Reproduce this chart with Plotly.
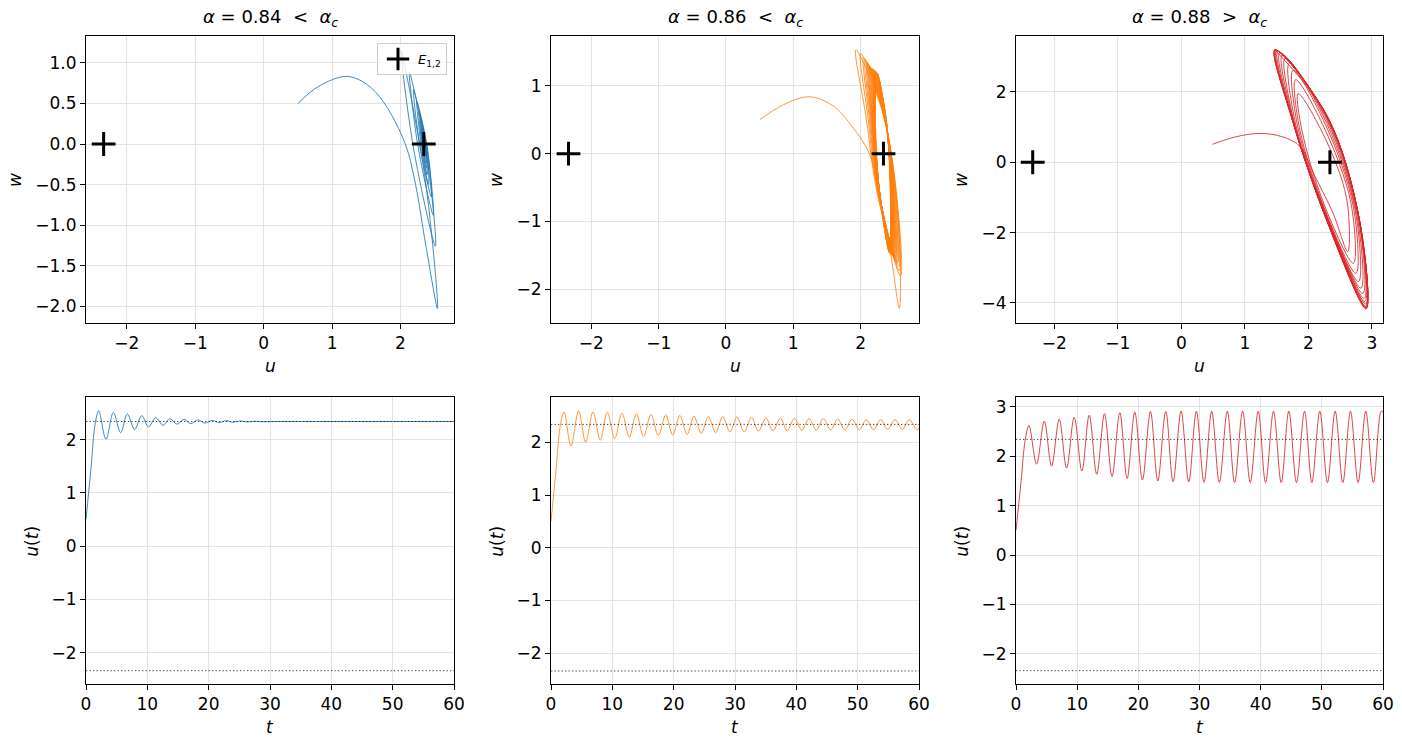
import plotly.graph_objects as go

E = 2.34          # equilibria E_{1,2} at (+-E, 0)
T_MAX = 60

# ---------------- alpha = 0.84 (blue) ----------------
b_rise_t = [0.0, 0.8, 1.5]
b_rise_u = [0.5, 1.45, 2.3]
b_peak_t = [2.07, 4.46, 6.74, 9.08, 11.36, 13.7, 15.98, 18.26, 20.55, 22.85, 25.1, 27.4]
b_peak_u = [2.54, 2.51, 2.48, 2.45, 2.41, 2.39, 2.38, 2.37, 2.36, 2.355, 2.35, 2.345]
b_trough_t = [3.26, 5.65, 7.93, 10.2, 12.55, 14.84, 17.1, 19.4, 21.7, 24.0, 26.3, 28.6]
b_trough_u = [2.006, 2.13, 2.19, 2.24, 2.27, 2.29, 2.30, 2.31, 2.32, 2.325, 2.33, 2.335]
b_tail_t = [31.0, 40.0, 50.0, 60.0]
b_tail_u = [2.34, 2.34, 2.34, 2.34]

b_arc_u = [0.5, 0.8, 1.21, 1.5, 1.75, 2.07, 2.22, 2.37]
b_arc_w = [0.5, 0.71, 0.834, 0.74, 0.52, 0.0, -0.5, -1.25]
b_bot_w = [-2.03, -1.26, -0.88, -0.65, -0.50, -0.38, -0.30, -0.23, -0.17, -0.12, -0.08, -0.05]
b_top_w = [1.16, 0.89, 0.67, 0.52, 0.40, 0.31, 0.24, 0.18, 0.13, 0.09, 0.06, 0.04]
b_up_u = [2.36, 2.39, 2.395, 2.395, 2.385, 2.375, 2.37, 2.365, 2.36, 2.355, 2.35, 2.345]
b_up_w = [-0.43, -0.18, -0.10, -0.06, -0.05, -0.04, -0.03, -0.025, -0.02, -0.015, -0.01, -0.005]
b_down_u = [2.19, 2.25, 2.28, 2.30, 2.31, 2.32, 2.325, 2.33, 2.333, 2.336, 2.338]
b_down_w = [-0.05, 0.0, 0.0, 0.0, 0.0, 0.0, 0.0, 0.0, 0.0, 0.0, 0.0]
b_end_u = [2.34]
b_end_w = [0.0]

# ---------------- alpha = 0.86 (orange) ----------------
o_rise_t = [0.0, 0.8, 1.5]
o_rise_u = [0.5, 1.45, 2.3]
o_peak_t = [2.12, 4.51, 6.85, 9.18, 11.58, 13.9, 16.3, 18.7, 21.0, 23.3, 25.65, 28.0, 30.3,
            32.7, 35.05, 37.4, 39.7, 42.07, 44.4, 46.74, 49.07, 51.4, 53.75, 56.1, 58.4]
o_peak_u = [2.576, 2.595, 2.576, 2.57, 2.55, 2.544, 2.53, 2.52, 2.51, 2.50, 2.49, 2.49, 2.48,
            2.475, 2.46, 2.46, 2.456, 2.45, 2.45, 2.44, 2.437, 2.43, 2.43, 2.43, 2.43]
o_trough_t = [3.26, 5.65, 8.04, 10.38, 12.77, 15.1, 17.5, 19.84, 22.2, 24.5, 26.85, 29.2, 31.5,
              33.8, 36.2, 38.5, 40.9, 43.26, 45.6, 47.9, 50.27, 52.6, 54.9, 57.3, 59.6]
o_trough_u = [1.93, 2.0, 2.044, 2.07, 2.095, 2.11, 2.127, 2.14, 2.15, 2.17, 2.18, 2.196, 2.20,
              2.21, 2.215, 2.22, 2.228, 2.228, 2.234, 2.234, 2.24, 2.24, 2.245, 2.245, 2.25]
o_tail_t = [60.0]
o_tail_u = [2.26]

o_arc_u = [0.5, 0.85, 1.24, 1.6, 1.82, 2.13, 2.31, 2.45]
o_arc_w = [0.5, 0.72, 0.84, 0.7, 0.47, 0.0, -0.78, -1.5]
o_bot_w = [-2.28, -1.80, -1.72, -1.66, -1.62, -1.59, -1.57, -1.55, -1.54, -1.53, -1.52, -1.51, -1.50,
           -1.50, -1.49, -1.49, -1.48, -1.48, -1.47, -1.47, -1.47, -1.46, -1.46, -1.46, -1.46]
o_top_w = [1.53, 1.48, 1.42, 1.38, 1.35, 1.32, 1.30, 1.28, 1.27, 1.26, 1.25, 1.24, 1.23,
           1.22, 1.22, 1.21, 1.21, 1.20, 1.20, 1.20, 1.19, 1.19, 1.19, 1.19, 1.19]
o_up1_u = [2.56, 2.55, 2.54, 2.53, 2.52, 2.51, 2.50, 2.495, 2.49, 2.485, 2.48, 2.475, 2.47,
           2.465, 2.46, 2.46, 2.455, 2.455, 2.45, 2.45, 2.45, 2.445, 2.445, 2.445, 2.44]
o_up1_w = [-0.95, -0.75, -0.72, -0.70, -0.68, -0.66, -0.65, -0.64, -0.63, -0.62, -0.61, -0.60, -0.60,
           -0.59, -0.59, -0.58, -0.58, -0.57, -0.57, -0.57, -0.56, -0.56, -0.56, -0.55, -0.55]
o_up2_u = [2.33, 2.34, 2.345, 2.35, 2.355, 2.36, 2.36, 2.365, 2.365, 2.37, 2.37, 2.37, 2.37,
           2.375, 2.375, 2.375, 2.375, 2.375, 2.375, 2.38, 2.38, 2.38, 2.38, 2.38, 2.38]
o_up2_w = [0.60, 0.58, 0.56, 0.55, 0.54, 0.53, 0.52, 0.52, 0.51, 0.51, 0.50, 0.50, 0.50,
           0.50, 0.50, 0.50, 0.50, 0.50, 0.50, 0.50, 0.50, 0.50, 0.50, 0.50, 0.50]
o_down1_u = [2.08, 2.11, 2.13, 2.145, 2.155, 2.165, 2.17, 2.175, 2.18, 2.185, 2.19, 2.195,
             2.2, 2.2, 2.205, 2.205, 2.21, 2.21, 2.21, 2.215, 2.215, 2.215, 2.22, 2.22]
o_down1_w = [0.55, 0.53, 0.52, 0.51, 0.50, 0.50, 0.50, 0.50, 0.50, 0.50, 0.50, 0.50,
             0.50, 0.50, 0.50, 0.50, 0.50, 0.50, 0.50, 0.50, 0.50, 0.50, 0.50, 0.50]
o_down2_u = [2.25, 2.255, 2.26, 2.262, 2.265, 2.267, 2.27, 2.272, 2.274, 2.275, 2.276, 2.277,
             2.278, 2.279, 2.28, 2.28, 2.28, 2.28, 2.28, 2.28, 2.28, 2.28, 2.28, 2.28]
o_down2_w = [-0.60, -0.58, -0.57, -0.56, -0.55, -0.55, -0.55, -0.55, -0.55, -0.55, -0.55, -0.55,
             -0.55, -0.55, -0.55, -0.55, -0.55, -0.55, -0.55, -0.55, -0.55, -0.55, -0.55, -0.55]

# ---------------- alpha = 0.88 (red) ----------------
r_rise_t = [0.0, 0.8, 1.5]
r_rise_u = [0.5, 1.45, 2.32]
r_peak_t = [2.12, 4.62, 7.07, 9.52, 11.97, 14.47, 16.97, 19.42, 21.98, 24.48, 26.99, 29.49,
            31.99, 34.55, 37.05, 39.6, 42.1, 44.6, 47.17, 49.67, 52.18, 54.68, 57.18, 59.7]
r_peak_u = [2.62, 2.71, 2.75, 2.79, 2.83, 2.86, 2.88, 2.89, 2.905, 2.905, 2.91, 2.91,
            2.91, 2.91, 2.91, 2.91, 2.91, 2.91, 2.91, 2.91, 2.91, 2.91, 2.91, 2.91]
r_trough_t = [3.37, 5.82, 8.27, 10.77, 13.2, 15.7, 18.17, 20.67, 23.18, 25.68, 28.24, 30.74,
              33.24, 35.74, 38.3, 40.8, 43.36, 45.86, 48.37, 50.92, 53.43, 55.93, 58.43]
r_trough_u = [1.84, 1.80, 1.76, 1.70, 1.635, 1.59, 1.55, 1.52, 1.50, 1.486, 1.48, 1.473,
              1.47, 1.466, 1.466, 1.466, 1.466, 1.466, 1.466, 1.466, 1.466, 1.466, 1.466]
r_tail_t = [60.0]
r_tail_u = [2.89]

r_arc_u = [0.49, 0.85, 1.24, 1.6, 1.87, 2.08, 2.39]
r_arc_w = [0.51, 0.72, 0.82, 0.72, 0.45, -0.31, -1.45]
r_bot_w = [-2.54, -2.87, -3.16, -3.39, -3.58, -3.73, -3.87, -3.96, -4.03, -4.09, -4.12, -4.14, -4.16, -4.17]
r_top_w = [1.95, 2.35, 2.62, 2.82, 2.96, 3.05, 3.11, 3.15, 3.17, 3.18, 3.19, 3.2, 3.2, 3.21]
r_up1_u = [2.60, 2.67, 2.71, 2.74, 2.76, 2.78, 2.79, 2.795, 2.80, 2.80, 2.80, 2.80, 2.80, 2.80]
r_up1_w = [-1.0, -1.15, -1.28, -1.38, -1.45, -1.5, -1.54, -1.56, -1.58, -1.59, -1.6, -1.6, -1.6, -1.6]
r_up2_u = [2.22, 2.25, 2.27, 2.28, 2.29, 2.295, 2.3, 2.3, 2.3, 2.3, 2.3, 2.3, 2.3, 2.3]
r_up2_w = [0.85, 0.98, 1.07, 1.14, 1.19, 1.23, 1.26, 1.27, 1.28, 1.29, 1.3, 1.3, 1.3, 1.3]
r_down1_u = [1.90, 1.86, 1.83, 1.80, 1.78, 1.77, 1.76, 1.755, 1.75, 1.75, 1.75, 1.75, 1.75]
r_down1_w = [0.9, 0.98, 1.04, 1.09, 1.12, 1.15, 1.17, 1.18, 1.19, 1.2, 1.2, 1.2, 1.2]
r_down2_u = [2.26, 2.27, 2.28, 2.29, 2.29, 2.3, 2.3, 2.3, 2.3, 2.3, 2.3, 2.3, 2.3]
r_down2_w = [-1.25, -1.38, -1.47, -1.54, -1.59, -1.62, -1.65, -1.67, -1.68, -1.69, -1.7, -1.7, -1.7]

titles = ["<i>α</i> = 0.84 &nbsp;&lt;&nbsp; <i>α<sub>c</sub></i>",
          "<i>α</i> = 0.86 &nbsp;&lt;&nbsp; <i>α<sub>c</sub></i>",
          "<i>α</i> = 0.88 &nbsp;&gt;&nbsp; <i>α<sub>c</sub></i>"]
colors = ["rgba(31,119,180,0.85)", "rgba(255,127,14,0.82)", "rgba(214,39,40,0.85)"]


def build_series(rise_t, rise_u, peak_t, peak_u, trough_t, trough_u, tail_t, tail_u):
    ext = sorted(zip(peak_t + trough_t, peak_u + trough_u))
    t = rise_t + [p[0] for p in ext] + tail_t
    u = rise_u + [p[1] for p in ext] + tail_u
    return t, u


def build_phase(arc_u, arc_w, bot_u, bot_w, top_u, top_w, up, down, end_u=(), end_w=()):
    us, ws = list(arc_u), list(arc_w)
    for k in range(len(bot_w)):
        us.append(bot_u[k]); ws.append(bot_w[k])
        for su, sw in up:
            us.append(su[k]); ws.append(sw[k])
        us.append(top_u[k]); ws.append(top_w[k])
        if k < len(down[0][0]):
            for su, sw in down:
                us.append(su[k]); ws.append(sw[k])
    return us + list(end_u), ws + list(end_w)


series = [
    build_series(b_rise_t, b_rise_u, b_peak_t, b_peak_u, b_trough_t, b_trough_u, b_tail_t, b_tail_u),
    build_series(o_rise_t, o_rise_u, o_peak_t, o_peak_u, o_trough_t, o_trough_u, o_tail_t, o_tail_u),
    build_series(r_rise_t, r_rise_u, r_peak_t, r_peak_u, r_trough_t, r_trough_u, r_tail_t, r_tail_u),
]
phases = [
    build_phase(b_arc_u, b_arc_w, b_peak_u, b_bot_w, b_trough_u, b_top_w,
                [(b_up_u, b_up_w)], [(b_down_u, b_down_w)], b_end_u, b_end_w),
    build_phase(o_arc_u, o_arc_w, o_peak_u, o_bot_w, o_trough_u, o_top_w,
                [(o_up1_u, o_up1_w), (o_up2_u, o_up2_w)],
                [(o_down1_u, o_down1_w), (o_down2_u, o_down2_w)]),
    build_phase(r_arc_u, r_arc_w, r_peak_u[:len(r_bot_w)], r_bot_w, r_trough_u[:len(r_top_w)], r_top_w,
                [(r_up1_u, r_up1_w), (r_up2_u, r_up2_w)],
                [(r_down1_u, r_down1_w), (r_down2_u, r_down2_w)]),
]

W, H = 1402, 741
col_dom = [[86 / W, 454 / W], [551 / W, 919 / W], [1016 / W, 1383 / W]]
top_dom = [1 - 323 / H, 1 - 36 / H]
bot_dom = [1 - 684 / H, 1 - 397 / H]

x_top_range = [[-2.598, 2.782], [-2.60, 2.868], [-2.603, 3.176]]
y_top_range = [[-2.207, 1.332], [-2.497, 1.736], [-4.57, 3.59]]
y_bot_range = [[-2.59, 2.80], [-2.587, 2.86], [-2.61, 3.198]]
x_top_ticks = [[-2, -1, 0, 1, 2], [-2, -1, 0, 1, 2], [-2, -1, 0, 1, 2, 3]]
y_top_ticks = [[-2.0, -1.5, -1.0, -0.5, 0.0, 0.5, 1.0], [-2, -1, 0, 1], [-4, -2, 0, 2]]
y_bot_ticks = [[-2, -1, 0, 1, 2], [-2, -1, 0, 1, 2], [-2, -1, 0, 1, 2, 3]]
t_ticks = [0, 10, 20, 30, 40, 50, 60]

FONT = "DejaVu Sans"
fig = go.Figure()

for i in range(3):
    xa, ya = "x%d" % (i + 1), "y%d" % (i + 1)
    xb, yb = "x%d" % (i + 4), "y%d" % (i + 4)
    pu, pw = phases[i]
    fig.add_trace(go.Scatter(x=pu, y=pw, mode="lines", xaxis=xa, yaxis=ya, showlegend=False,
                             line=dict(color=colors[i], width=1, shape="spline", smoothing=1.0),
                             hoverinfo="skip"))
    fig.add_trace(go.Scatter(x=[-E, E], y=[0, 0], mode="markers", xaxis=xa, yaxis=ya,
                             name="<i>E</i><sub>1,2</sub>", showlegend=(i == 0),
                             marker=dict(symbol="cross-thin", size=17, color="black",
                                         line=dict(width=3, color="black"))))
    st, su = series[i]
    fig.add_trace(go.Scatter(x=st, y=su, mode="lines", xaxis=xb, yaxis=yb, showlegend=False,
                             line=dict(color=colors[i], width=1, shape="spline", smoothing=1.0),
                             hoverinfo="skip"))
    for lvl in (E, -E):
        fig.add_trace(go.Scatter(x=[0, T_MAX], y=[lvl, lvl], mode="lines", xaxis=xb, yaxis=yb,
                                 showlegend=False, hoverinfo="skip",
                                 line=dict(color="rgba(0,0,0,0.75)", width=1, dash="1.3px,2.2px")))

axis_common = dict(showline=True, mirror=True, linecolor="black", linewidth=1,
                   ticks="outside", ticklen=5, tickwidth=1, tickcolor="black",
                   showgrid=True, gridcolor="#e3e3e3", gridwidth=1, zeroline=False,
                   tickfont=dict(family=FONT, size=17, color="black"), automargin=False,
                   tickmode="array")

layout = dict(width=W, height=H, margin=dict(l=0, r=0, t=0, b=0),
              plot_bgcolor="white", paper_bgcolor="white",
              font=dict(family=FONT, size=16, color="black"))
for i in range(3):
    layout["xaxis%d" % (i + 1)] = dict(axis_common, domain=col_dom[i], range=x_top_range[i],
                                       tickvals=x_top_ticks[i], anchor="y%d" % (i + 1))
    layout["yaxis%d" % (i + 1)] = dict(axis_common, domain=top_dom, range=y_top_range[i],
                                       tickvals=y_top_ticks[i], anchor="x%d" % (i + 1),
                                       tickformat=".1f" if i == 0 else "d")
    layout["xaxis%d" % (i + 4)] = dict(axis_common, domain=col_dom[i], range=[0, T_MAX],
                                       tickvals=t_ticks, anchor="y%d" % (i + 4))
    layout["yaxis%d" % (i + 4)] = dict(axis_common, domain=bot_dom, range=y_bot_range[i],
                                       tickvals=y_bot_ticks[i], anchor="x%d" % (i + 4))
layout["xaxis"] = layout.pop("xaxis1")
layout["yaxis"] = layout.pop("yaxis1")
fig.update_layout(**layout)

fig.update_layout(legend=dict(x=447 / W, y=1 - 43 / H, xanchor="right", yanchor="top",
                              bgcolor="rgba(255,255,255,0.8)", bordercolor="#cccccc", borderwidth=1,
                              font=dict(family=FONT, size=13), itemwidth=30,
                              tracegroupgap=0))

# titles and axis labels
centers = [270, 735, 1199.5]
w_label_x = [15, 496, 961]
ut_label_x = [32, 497, 962]
ann = []
for i in range(3):
    ann.append(dict(text=titles[i], x=centers[i] / W, y=1 - 17.5 / H, xref="paper", yref="paper",
                    showarrow=False, xanchor="center", yanchor="middle",
                    font=dict(family=FONT, size=18, color="black")))
    ann.append(dict(text="<i>u</i>", x=centers[i] / W, y=1 - 366 / H, xref="paper", yref="paper",
                    showarrow=False, xanchor="center", yanchor="middle",
                    font=dict(family=FONT, size=17, color="black")))
    ann.append(dict(text="<i>t</i>", x=centers[i] / W, y=1 - 727 / H, xref="paper", yref="paper",
                    showarrow=False, xanchor="center", yanchor="middle",
                    font=dict(family=FONT, size=17, color="black")))
    ann.append(dict(text="<i>w</i>", x=w_label_x[i] / W, y=1 - 180 / H, xref="paper", yref="paper",
                    showarrow=False, xanchor="center", yanchor="middle", textangle=-90,
                    font=dict(family=FONT, size=17, color="black")))
    ann.append(dict(text="<i>u</i>(<i>t</i>)", x=ut_label_x[i] / W, y=1 - 541.7 / H,
                    xref="paper", yref="paper", showarrow=False, xanchor="center",
                    yanchor="middle", textangle=-90,
                    font=dict(family=FONT, size=17, color="black")))
fig.update_layout(annotations=ann)

fig.write_html("out.html", config={"displayModeBar": False},
               post_script="document.body.style.margin='0';document.body.style.overflow='hidden';")
